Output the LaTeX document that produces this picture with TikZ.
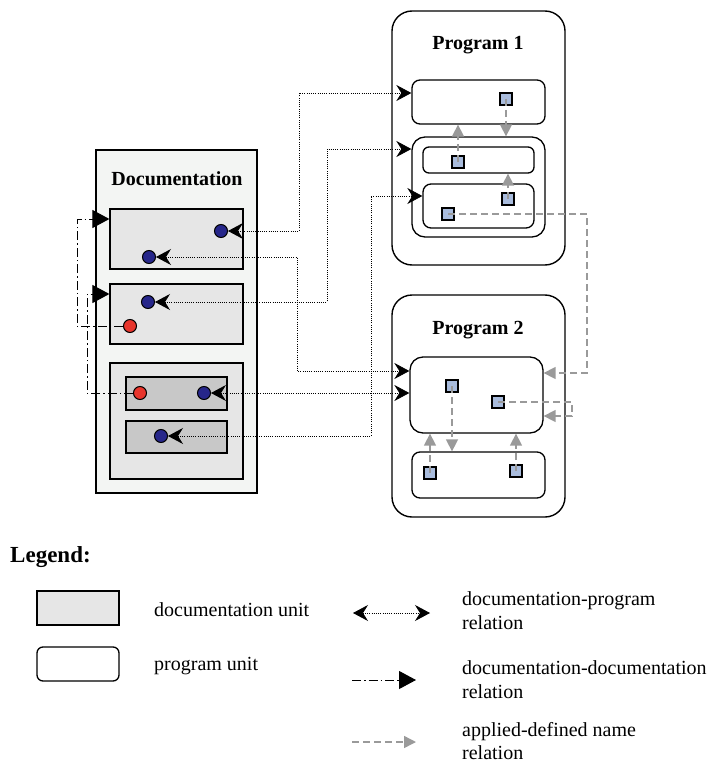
\documentclass[tikz,border=0pt]{standalone}
\usepackage{fontspec}
\setmainfont{Liberation Serif}
\usetikzlibrary{arrows.meta}
\definecolor{docbg}{HTML}{F3F5F3}
\definecolor{docunit}{HTML}{E6E6E6}
\definecolor{docsub}{HTML}{C8C8C8}
\definecolor{namesq}{HTML}{A9BCDD}
\definecolor{circblue}{HTML}{26268A}
\definecolor{circred}{HTML}{E8352C}
\definecolor{relgray}{HTML}{9A9A9A}
\begin{document}
\begin{tikzpicture}[x=1pt,y=-1pt,
  docouter/.style={draw, line width=1.2pt, fill=docbg, inner sep=0pt},
  docbox/.style={draw, line width=1.2pt, fill=docunit, inner sep=0pt},
  subbox/.style={docbox, fill=docsub},
  progbox/.style={draw, line width=1.4pt, rounded corners=20pt, inner sep=0pt},
  punit/.style={draw, line width=1.3pt, rounded corners=#1, inner sep=0pt},
  punit/.default=8pt,
  circ/.style={circle, draw, line width=1pt, minimum size=13pt, inner sep=0pt},
  sq/.style={draw, line width=1.1pt, fill=namesq, minimum size=12pt, inner sep=0pt},
  dp/.style={line width=0.8pt, dash pattern=on 1pt off 1.2pt,
    {Stealth[length=15pt,width=16pt,inset=5pt]}-{Stealth[length=15pt,width=16pt,inset=5pt]}},
  dd/.style={line width=1pt, dash pattern=on 9pt off 3pt on 1.5pt off 3pt,
    -{Triangle[length=17pt,width=18pt]}},
  an/.style={draw=relgray, line width=1.5pt, dash pattern=on 7pt off 4pt,
    -{Triangle[length=12pt,width=12pt,fill=relgray]}},
  title/.style={font=\fontsize{20}{24}\selectfont\bfseries, inner sep=0pt, anchor=base},
  ltext/.style={font=\fontsize{20}{24}\selectfont, inner sep=0pt, anchor=base west}
]
\useasboundingbox (0,0) rectangle (714,765);

% ---------- Documentation ----------
\node[docouter, minimum width=161pt, minimum height=343pt] (doc) at (176.5,321.5) {};
\node[title] (doctitle) at (177,185) {Documentation};
\node[docbox, minimum width=133pt, minimum height=60pt] (D1) at (176.5,239) {};
\node[docbox, minimum width=133pt, minimum height=60pt] (D2) at (176.5,314) {};
\node[docbox, minimum width=133pt, minimum height=116pt] (D3) at (176.5,421) {};
\node[subbox, minimum width=101pt, minimum height=33pt] (D3a) at (176.5,393.5) {};
\node[subbox, minimum width=101pt, minimum height=32pt] (D3b) at (176.5,437) {};

\node[circ, fill=circblue] (c1a) at (221,231) {};
\node[circ, fill=circblue] (c1b) at (149,257) {};
\node[circ, fill=circblue] (c2a) at (148,302) {};
\node[circ, fill=circred]  (c2r) at (130,326) {};
\node[circ, fill=circred]  (c3r) at (140,393) {};
\node[circ, fill=circblue] (c3b) at (204,393) {};
\node[circ, fill=circblue] (c4)  at (161,436) {};

% ---------- Program 1 ----------
\node[progbox, minimum width=173pt, minimum height=254pt] (P1) at (478.5,138) {};
\node[title] (p1title) at (478,50) {Program 1};
\node[punit=8pt, minimum width=133pt, minimum height=44pt] (P1u1) at (478.5,102) {};
\node[punit=13pt, minimum width=133pt, minimum height=100pt] (P1u2) at (478.5,187) {};
\node[punit=6pt, minimum width=111pt, minimum height=26pt] (P1u2a) at (478.5,160) {};
\node[punit=8pt, minimum width=111pt, minimum height=44pt] (P1u2b) at (478.5,206) {};
\node[sq] (s1)  at (506,99) {};
\node[sq] (s2a) at (458,162) {};
\node[sq] (s2b) at (508,199) {};
\node[sq] (s2c) at (448,214) {};

% ---------- Program 2 ----------
\node[progbox, minimum width=173pt, minimum height=222pt] (P2) at (478.5,406) {};
\node[title] (p2title) at (478,334) {Program 2};
\node[punit=13pt, minimum width=133pt, minimum height=76pt] (P2u1) at (476.5,395) {};
\node[punit=8pt, minimum width=133pt, minimum height=46pt] (P2u2) at (478.5,475) {};
\node[sq] (s3) at (452,386) {};
\node[sq] (s4) at (498,402) {};
\node[sq] (s5) at (430,473) {};
\node[sq] (s6) at (516,471) {};

% ---------- documentation-program relations ----------
\draw[dp] (c1a.east) -- (299,231) -- (299,93) -- (P1u1.west |- 0,93);
\draw[dp] (c1b.east) -- (297,257) -- (297,371) -- (P2u1.west |- 0,371);
\draw[dp] (c2a.east) -- (327,302) -- (327,149) -- (P1u2.west |- 0,149);
\draw[dp] (c3b.east) -- (P2u1.west |- 0,393);
\draw[dp] (c4.east) -- (371,436) -- (371,196) -- (P1u2b.west |- 0,196);

% ---------- documentation-documentation relations ----------
\draw[dd] (c2r.west) -- (77,326) -- (77,219) -- (D1.west |- 0,219);
\draw[dd] (c3r.west) -- (87,393) -- (87,294) -- (D2.west |- 0,294);

% ---------- applied-defined name relations ----------
\draw[an] (s2a.center) -- (s2a |- P1u1.south);
\draw[an] (s1.center) -- (s1 |- P1u2.north);
\draw[an] (s2b.center) -- (s2b |- P1u2a.south);
\draw[an] (s2c.center) -- (587,214) -- (587,373) -- (P2u1.east |- 0,373);
\draw[an] (s3.center) -- (s3 |- P2u2.north);
\draw[an] (s4.center) -- (572,402) -- (572,416) -- (P2u1.east |- 0,416);
\draw[an] (s5.center) -- (s5 |- P2u1.south);
\draw[an] (s6.center) -- (s6 |- P2u1.south);

% ---------- Legend ----------
\node[font=\fontsize{23}{27}\selectfont\bfseries, inner sep=0pt, anchor=base west] (legend) at (10,562) {Legend:};
\node[docbox, minimum width=82pt, minimum height=34pt] (Ld) at (78,608) {};
\node[ltext] (Ldt) at (154,616) {documentation unit};
\node[punit=6pt, minimum width=82pt, minimum height=34pt] (Lp) at (78,664) {};
\node[ltext] (Lpt) at (154,670) {program unit};

\coordinate (la1) at (353,613);
\coordinate (la2) at (430,613);
\draw[dp] (la1) -- (la2);
\node[ltext] (la3) at (462,605) {documentation-program};
\node[ltext] (la4) at (462,629) {relation};

\coordinate (lb1) at (352,680);
\coordinate (lb2) at (416,680);
\draw[dd] (lb1) -- (lb2);
\node[ltext] (lb3) at (462,674) {documentation-documentation};
\node[ltext] (lb4) at (462,698) {relation};

\coordinate (lc1) at (352,742);
\coordinate (lc2) at (416,742);
\draw[an] (lc1) -- (lc2);
\node[ltext] (lc3) at (462,736) {applied-defined name};
\node[ltext] (lc4) at (462,759) {relation};
\end{tikzpicture}
\end{document}
